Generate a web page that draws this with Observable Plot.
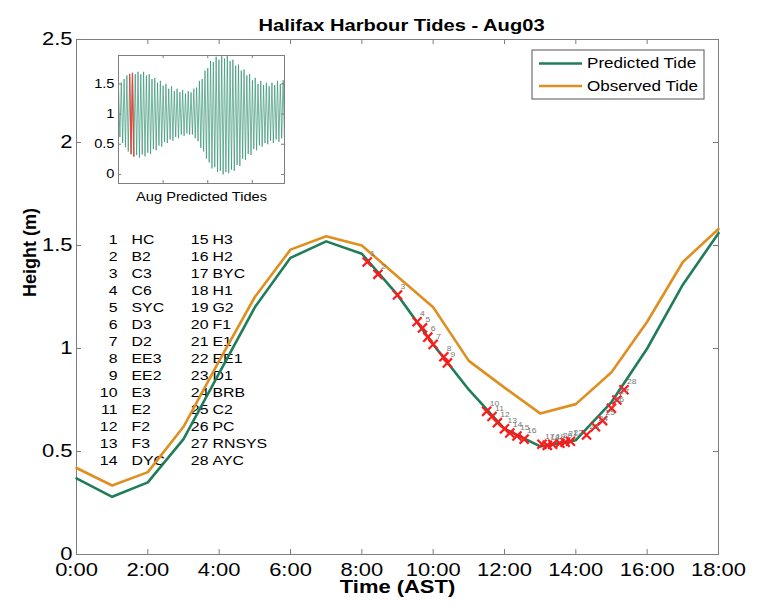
<!DOCTYPE html>
<html><head><meta charset="utf-8">
<script src="https://cdn.jsdelivr.net/npm/d3@7"></script>
<script src="https://cdn.jsdelivr.net/npm/@observablehq/plot@0.6"></script>
<style>
body{margin:0;background:#fff}
#wrap{position:relative;width:767px;height:608px}
#inset{position:absolute;left:88px;top:45px}
</style>
</head><body><div id="wrap"></div>
<script>
const title = "Halifax Harbour Tides - Aug03";
const xLabel = "Time (AST)";
const yLabel = "Height (m)";
const hours = [0,1,2,3,4,5,6,7,8,9,10,11,12,13,14,15,16,17,18];
const predicted = [0.37,0.28,0.35,0.56,0.88,1.20,1.44,1.52,1.46,1.26,1.02,0.80,0.61,0.525,0.555,0.74,1.00,1.31,1.56];
const observed  = [0.42,0.335,0.40,0.62,0.94,1.25,1.48,1.545,1.50,1.35,1.20,0.94,0.81,0.685,0.73,0.885,1.13,1.42,1.58];
const xTicks = [0,2,4,6,8,10,12,14,16,18];
const yTicks = [0,0.5,1,1.5,2,2.5];
const legendLabels = ["Predicted Tide","Observed Tide"];
const colors = ["#1f7d5a","#de8f1f"];

const stationIds = [1,2,3,4,5,6,7,8,9,10,11,12,13,14,15,16,17,18,19,20,21,22,23,24,25,26,27,28];
const stationNames = ["HC","B2","C3","C6","SYC","D3","D2","EE3","EE2","E3","E2","F2","F3","DYC",
                      "H3","H2","BYC","H1","G2","F1","E1","EE1","D1","BRB","C2","PC","RNSYS","AYC"];
const stationTimes = [8.15,8.45,9.0,9.55,9.7,9.85,10.0,10.3,10.4,11.5,11.65,11.8,12.0,12.15,12.35,12.55,
                      13.05,13.2,13.35,13.55,13.7,13.85,14.3,14.55,14.75,15.0,15.15,15.35];
const stationHeights = [1.42,1.36,1.26,1.13,1.10,1.055,1.02,0.96,0.93,0.695,0.67,0.64,0.61,0.59,0.575,0.56,
                        0.535,0.53,0.535,0.54,0.545,0.55,0.58,0.62,0.65,0.71,0.75,0.80];

// inset: successive high / low water heights through August
const insetHighs = [1.45,1.52,1.58,1.64,1.66,1.68,1.66,1.70,1.66,1.70,1.64,1.66,1.58,1.60,1.52,1.55,1.47,1.50,1.42,1.46,
                    1.38,1.42,1.36,1.40,1.34,1.38,1.36,1.42,1.44,1.55,1.58,1.72,1.76,1.88,1.86,1.95,1.90,1.96,1.92,1.96,
                    1.88,1.90,1.80,1.82,1.72,1.74,1.64,1.66,1.56,1.60,1.50,1.55,1.48,1.52,1.46,1.52,1.48,1.55,1.50,1.56];
const insetLows  = [0.62,0.52,0.45,0.38,0.34,0.30,0.32,0.28,0.33,0.30,0.36,0.34,0.42,0.40,0.48,0.46,0.54,0.52,0.58,0.56,
                    0.62,0.60,0.66,0.64,0.68,0.66,0.66,0.60,0.55,0.44,0.38,0.26,0.20,0.10,0.12,0.04,0.06,0.00,0.04,0.02,
                    0.08,0.06,0.16,0.14,0.26,0.24,0.34,0.32,0.42,0.40,0.48,0.46,0.52,0.50,0.56,0.52,0.58,0.54,0.60,0.58];
const insetMonthHours = 744;
const insetXTicks = [200,400,600];
const insetYTicks = [0,0.5,1,1.5];
const insetLabel = "Aug Predicted Tides";
const insetHighlight = [48,66]; // hours of Aug 03 shown in main panel

const FONT = "'Liberation Sans', Arial, Helvetica, sans-serif";
const STRETCH = 1.22;
const W=767,H=608,mL=76,mR=49,mT=39,mB=54;
const fw=W-mL-mR, fh=H-mT-mB;
const axisCol = "#7f7f7f";

const pred = hours.map((h,i)=>({t:h, v:predicted[i]}));
const obs = hours.map((h,i)=>({t:h, v:observed[i]}));
const stations = stationIds.map((id,i)=>({id, name:stationNames[i], t:stationTimes[i], v:stationHeights[i]}));

const col1 = stations.slice(0,14), col2 = stations.slice(14);
const listOpts = {frameAnchor:"top-left", lineAnchor:"top", lineHeight:1.308, fontSize:13, dy:192.2, text:d=>d};

const main = Plot.plot({
  width:W, height:H, marginLeft:mL, marginRight:mR, marginTop:mT, marginBottom:mB,
  style:{fontFamily:FONT, fontSize:"18px", color:"#000", background:"#fff", overflow:"visible"},
  x:{domain:[0,18]}, y:{domain:[0,2.5]},
  marks:[
    Plot.frame({stroke:axisCol, strokeWidth:1}),
    Plot.tickX(xTicks,{x:d=>d, insetTop:fh-5, stroke:axisCol}),
    Plot.tickX(xTicks,{x:d=>d, insetBottom:fh-5, stroke:axisCol}),
    Plot.tickY(yTicks,{y:d=>d, insetRight:fw-5, stroke:axisCol}),
    Plot.tickY(yTicks,{y:d=>d, insetLeft:fw-5, stroke:axisCol}),
    Plot.axisX({ticks:xTicks, tickSize:0, tickPadding:9, tickFormat:d=>`${d}:00`, fontSize:18, label:null}),
    Plot.axisY({ticks:yTicks, tickSize:0, tickPadding:4, tickFormat:d=>String(d), fontSize:18, label:null}),
    Plot.text([col1.map(d=>String(d.id)).join("\n")], {...listOpts, dx:41, textAnchor:"end"}),
    Plot.text([col1.map(d=>d.name).join("\n")], {...listOpts, dx:55, textAnchor:"start"}),
    Plot.text([col2.map(d=>String(d.id)).join("\n")], {...listOpts, dx:132, textAnchor:"end"}),
    Plot.text([col2.map(d=>d.name).join("\n")], {...listOpts, dx:136, textAnchor:"start"}),
    Plot.line(pred, {x:"t", y:"v", stroke:colors[0], strokeWidth:2.6}),
    Plot.line(obs, {x:"t", y:"v", stroke:colors[1], strokeWidth:2.6}),
    Plot.dot(stations, {x:"t", y:"v", symbol:"times", r:4.2, stroke:"#ff1a1a", strokeWidth:2.2}),
    Plot.text(stations, {x:"t", y:"v", text:d=>String(d.id), dx:3, dy:-8, fontSize:7, fill:"#777", textAnchor:"start"}),
    Plot.text([title], {text:d=>d, frameAnchor:"top", dy:-20, dx:4, fontSize:16.5, fontWeight:"bold"}),
    Plot.text([xLabel], {text:d=>d, frameAnchor:"bottom", dy:38.5, fontSize:18, fontWeight:"bold"}),
    Plot.text([yLabel], {text:d=>d, frameAnchor:"left", dx:-46, rotate:-90, fontSize:18, fontWeight:"bold"})
  ]
});

// legend
const lg = d3.select(main).append("g").attr("font-family", FONT).attr("font-size", 14).attr("text-anchor","start");
lg.append("rect").attr("x",532).attr("y",50).attr("width",172).attr("height",49)
  .attr("fill","#fff").attr("stroke","#555").attr("stroke-width",1);
legendLabels.forEach((lab,i)=>{
  const yy = 63.5 + i*22.5;
  lg.append("line").attr("x1",539).attr("x2",582).attr("y1",yy).attr("y2",yy)
    .attr("stroke",colors[i]).attr("stroke-width",2.6);
  lg.append("text").attr("transform",`translate(587,${yy})`).attr("dy","0.35em")
    .attr("text-anchor","start").text(lab);
});

// inset
const insetVals = [];
insetHighs.forEach((h,i)=>{ insetVals.push(h, insetLows[i]); });
const insetSeries = insetVals.map((v,i)=>({hr:i*insetMonthHours/(insetVals.length-1), v}));
const insetRed = insetSeries.filter(d=>d.hr>=insetHighlight[0]-3 && d.hr<=insetHighlight[1]+3);
const ifw = 205-30-9, ifh = 165-10-27;
const inset = Plot.plot({
  width:205, height:165, marginLeft:30, marginRight:9, marginTop:10, marginBottom:27,
  style:{fontFamily:FONT, fontSize:"12px", color:"#000", background:"#fff", overflow:"visible"},
  x:{domain:[0,insetMonthHours], axis:null}, y:{domain:[-0.15,1.97]},
  marks:[
    Plot.line(insetSeries, {x:"hr", y:"v", stroke:"#2f9070", strokeWidth:0.8, strokeOpacity:0.85}),
    Plot.line(insetRed, {x:"hr", y:"v", stroke:"#e8463c", strokeWidth:1.2}),
    Plot.frame({stroke:axisCol}),
    Plot.tickX(insetXTicks,{x:d=>d, insetTop:ifh-3, stroke:axisCol}),
    Plot.tickX(insetXTicks,{x:d=>d, insetBottom:ifh-3, stroke:axisCol}),
    Plot.tickY(insetYTicks,{y:d=>d, insetRight:ifw-3, stroke:axisCol}),
    Plot.tickY(insetYTicks,{y:d=>d, insetLeft:ifw-3, stroke:axisCol}),
    Plot.axisY({ticks:insetYTicks, tickSize:0, tickPadding:4, tickFormat:d=>String(d), fontSize:12, label:null}),
    Plot.text([insetLabel], {text:d=>d, frameAnchor:"bottom", dy:17, fontSize:12})
  ]
});
inset.id = "inset";

// horizontal stretch of the glyphs, as in the reference
function stretch(svg){
  d3.select(svg).selectAll("text").each(function(){
    const t = this.getAttribute("transform");
    if (t && !t.includes("rotate")) this.setAttribute("transform", t + ` scale(${STRETCH},1)`);
  });
}
stretch(main); stretch(inset);

const wrap = document.getElementById("wrap");
wrap.appendChild(main);
wrap.appendChild(inset);
</script>
</body></html>
